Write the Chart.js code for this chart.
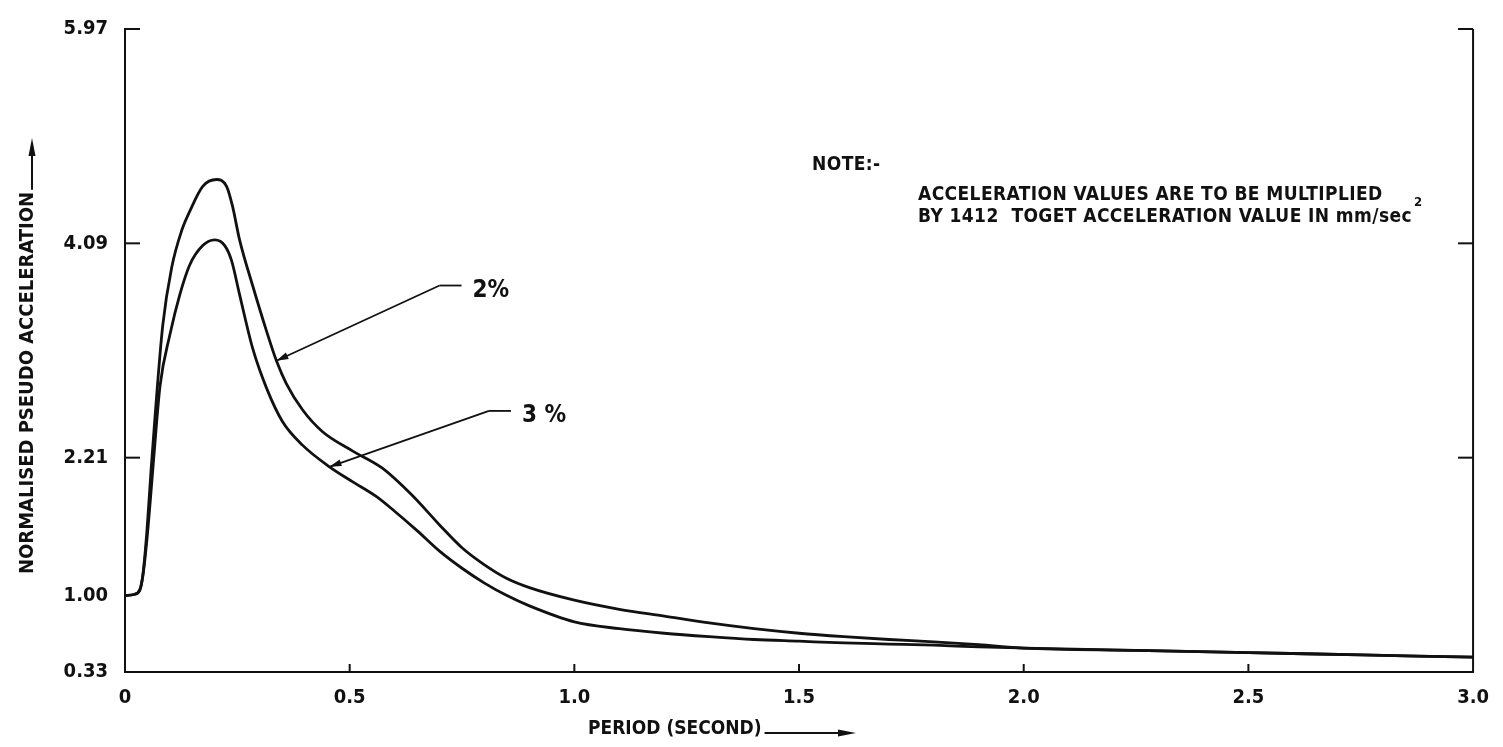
<!DOCTYPE html>
<html>
<head>
<meta charset="utf-8">
<script src="https://cdn.jsdelivr.net/npm/chart.js@4"></script>
<style>
  html, body { margin: 0; padding: 0; background: #fff; }
  #wrap { width: 1503px; height: 747px; }
</style>
</head>
<body>
<div id="wrap"><canvas id="chart"></canvas></div>
<script>
// period (s) and normalised pseudo acceleration
const periods2 = [0, 0.02, 0.033, 0.040, 0.049, 0.058, 0.067, 0.084, 0.104, 0.126, 0.144, 0.173, 0.204, 0.226, 0.239, 0.255, 0.284, 0.315, 0.337, 0.359, 0.395, 0.439, 0.506, 0.572, 0.639, 0.70, 0.75, 0.80, 0.85, 0.90, 1.0, 1.1, 1.2, 1.3, 1.4, 1.5, 1.6, 1.7, 1.8, 1.9, 2.0, 2.25, 2.5, 2.75, 3.0];
const accel2   = [1.00, 1.01, 1.05, 1.19, 1.58, 2.10, 2.58, 3.37, 3.88, 4.20, 4.37, 4.59, 4.65, 4.59, 4.42, 4.12, 3.72, 3.32, 3.06, 2.86, 2.63, 2.44, 2.27, 2.12, 1.88, 1.62, 1.42, 1.27, 1.15, 1.07, 0.96, 0.88, 0.82, 0.76, 0.71, 0.67, 0.64, 0.615, 0.595, 0.57, 0.54, 0.52, 0.50, 0.48, 0.46];

const periods3 = [0, 0.02, 0.033, 0.040, 0.049, 0.056, 0.064, 0.078, 0.100, 0.122, 0.144, 0.173, 0.200, 0.222, 0.237, 0.255, 0.284, 0.315, 0.350, 0.395, 0.455, 0.506, 0.559, 0.60, 0.65, 0.70, 0.75, 0.80, 0.85, 0.90, 1.0, 1.1, 1.2, 1.3, 1.4, 1.5, 1.6, 1.7, 1.8, 1.9, 2.0, 2.25, 2.5, 2.75, 3.0];
const accel3   = [1.00, 1.01, 1.05, 1.18, 1.50, 1.82, 2.21, 2.84, 3.29, 3.64, 3.90, 4.07, 4.12, 4.07, 3.94, 3.64, 3.17, 2.82, 2.53, 2.32, 2.13, 2.00, 1.87, 1.74, 1.57, 1.39, 1.24, 1.11, 1.00, 0.91, 0.77, 0.71, 0.67, 0.64, 0.615, 0.60, 0.585, 0.575, 0.565, 0.55, 0.54, 0.52, 0.50, 0.48, 0.46];

const xTicks = [0, 0.5, 1.0, 1.5, 2.0, 2.5, 3.0];
const yTicks = [0.33, 1.00, 2.21, 4.09, 5.97];

const seriesLabels = ['2%', '3 %'];
// leader lines: [tip period, tip value, elbow period, elbow value]
const leaders = [[0.337, 3.06, 0.70, 3.72], [0.455, 2.13, 0.81, 2.62]];

const noteLines = ['NOTE:-', 'ACCELERATION VALUES ARE TO BE MULTIPLIED', 'BY 1412  TOGET ACCELERATION VALUE IN mm/sec'];
const xTitle = 'PERIOD (SECOND)';
const yTitle = 'NORMALISED PSEUDO ACCELERATION';

const INK = '#111';
const FONT = "'DejaVu Sans Condensed', 'DejaVu Sans', sans-serif";

function toPoints(xs, ys) {
  return xs.map((x, i) => ({ x: x, y: ys[i] }));
}

function line(ctx, x1, y1, x2, y2) {
  ctx.beginPath();
  ctx.moveTo(x1, y1);
  ctx.lineTo(x2, y2);
  ctx.stroke();
}

function arrowHead(ctx, x, y, ang, len, wid) {
  ctx.save();
  ctx.translate(x, y);
  ctx.rotate(ang);
  ctx.beginPath();
  ctx.moveTo(0, 0);
  ctx.lineTo(-len, -wid);
  ctx.lineTo(-len, wid);
  ctx.closePath();
  ctx.fill();
  ctx.restore();
}

const extras = {
  id: 'extras',
  afterDraw(chart) {
    const { ctx, chartArea: a, scales: { x, y } } = chart;
    ctx.save();
    ctx.strokeStyle = INK;
    ctx.fillStyle = INK;
    ctx.lineWidth = 2;

    // right frame line and inward ticks
    const xr = x.getPixelForValue(3.0);
    line(ctx, xr, y.getPixelForValue(5.97), xr, a.bottom);
    [2.21, 4.09, 5.97].forEach(v => {
      const py = y.getPixelForValue(v);
      line(ctx, a.left, py, a.left + 15, py);
      line(ctx, xr, py, xr - 15, py);
    });
    xTicks.slice(1, -1).forEach(v => {
      const px = x.getPixelForValue(v);
      line(ctx, px, a.bottom, px, a.bottom - 8);
    });

    // leader lines with labels
    ctx.lineWidth = 1.8;
    ctx.font = 'bold 24px ' + FONT;
    ctx.textBaseline = 'middle';
    leaders.forEach((l, i) => {
      const tx = x.getPixelForValue(l[0]), ty = y.getPixelForValue(l[1]);
      const ex = x.getPixelForValue(l[2]), ey = y.getPixelForValue(l[3]);
      line(ctx, tx, ty, ex, ey);
      line(ctx, ex, ey, ex + 22, ey);
      arrowHead(ctx, tx, ty, Math.atan2(ty - ey, tx - ex), 12, 3.5);
      ctx.fillText(seriesLabels[i], ex + 33, ey + 5);
    });

    // note
    ctx.font = 'bold 19px ' + FONT;
    ctx.textBaseline = 'alphabetic';
    ctx.letterSpacing = '0.4px';
    ctx.fillText(noteLines[0], 812, 170);
    ctx.fillText(noteLines[1], 918, 200);
    ctx.fillText(noteLines[2], 918, 222);
    const w = ctx.measureText(noteLines[2]).width;
    ctx.font = 'bold 13px ' + FONT;
    ctx.fillText('2', 918 + w + 2, 206);
    ctx.letterSpacing = '0px';

    // x title with arrow
    ctx.font = 'bold 19px ' + FONT;
    ctx.fillText(xTitle, 588, 734);
    const xw = ctx.measureText(xTitle).width;
    ctx.lineWidth = 2;
    line(ctx, 588 + xw + 3, 733, 840, 733);
    arrowHead(ctx, 856, 733, 0, 18, 3.5);

    // y title, rotated, with arrow up
    ctx.save();
    ctx.translate(33, 574);
    ctx.rotate(-Math.PI / 2);
    ctx.font = 'bold 20px ' + FONT;
    ctx.fillText(yTitle, 0, 0);
    const yw = ctx.measureText(yTitle).width;
    ctx.restore();
    const topY = 574 - yw;
    line(ctx, 32, topY - 2, 32, 152);
    arrowHead(ctx, 32, 138, -Math.PI / 2, 18, 3.5);

    ctx.restore();
  }
};

new Chart(document.getElementById('chart'), {
  type: 'line',
  data: {
    datasets: [
      { label: seriesLabels[0], data: toPoints(periods2, accel2) },
      { label: seriesLabels[1], data: toPoints(periods3, accel3) }
    ]
  },
  options: {
    responsive: true,
    maintainAspectRatio: false,
    animation: false,
    layout: { padding: { top: 22, right: 25, left: 0, bottom: 0 } },
    elements: {
      line: { borderColor: INK, borderWidth: 2.8, tension: 0.4, cubicInterpolationMode: 'monotone', fill: false },
      point: { radius: 0 }
    },
    plugins: {
      legend: { display: false },
      tooltip: { enabled: false }
    },
    scales: {
      x: {
        type: 'linear',
        min: 0,
        max: 3,
        afterBuildTicks: s => { s.ticks = xTicks.map(v => ({ value: v })); },
        afterFit: s => { s.height = 75; },
        grid: { display: false, drawTicks: false },
        border: { display: true, color: INK, width: 2 },
        ticks: {
          color: INK,
          padding: 14,
          maxRotation: 0,
          font: { family: FONT, size: 20, weight: 'bold' },
          callback: v => (v === 0 ? '0' : v.toFixed(1))
        }
      },
      y: {
        type: 'linear',
        min: 0.33,
        max: 5.97,
        afterBuildTicks: s => { s.ticks = yTicks.map(v => ({ value: v })); },
        afterFit: s => { s.width = 125; },
        grid: { display: false, drawTicks: false },
        border: { display: true, color: INK, width: 2 },
        ticks: {
          color: INK,
          padding: 17,
          font: { family: FONT, size: 20, weight: 'bold' },
          callback: v => v.toFixed(2)
        }
      }
    }
  },
  plugins: [extras]
});
</script>
</body>
</html>
